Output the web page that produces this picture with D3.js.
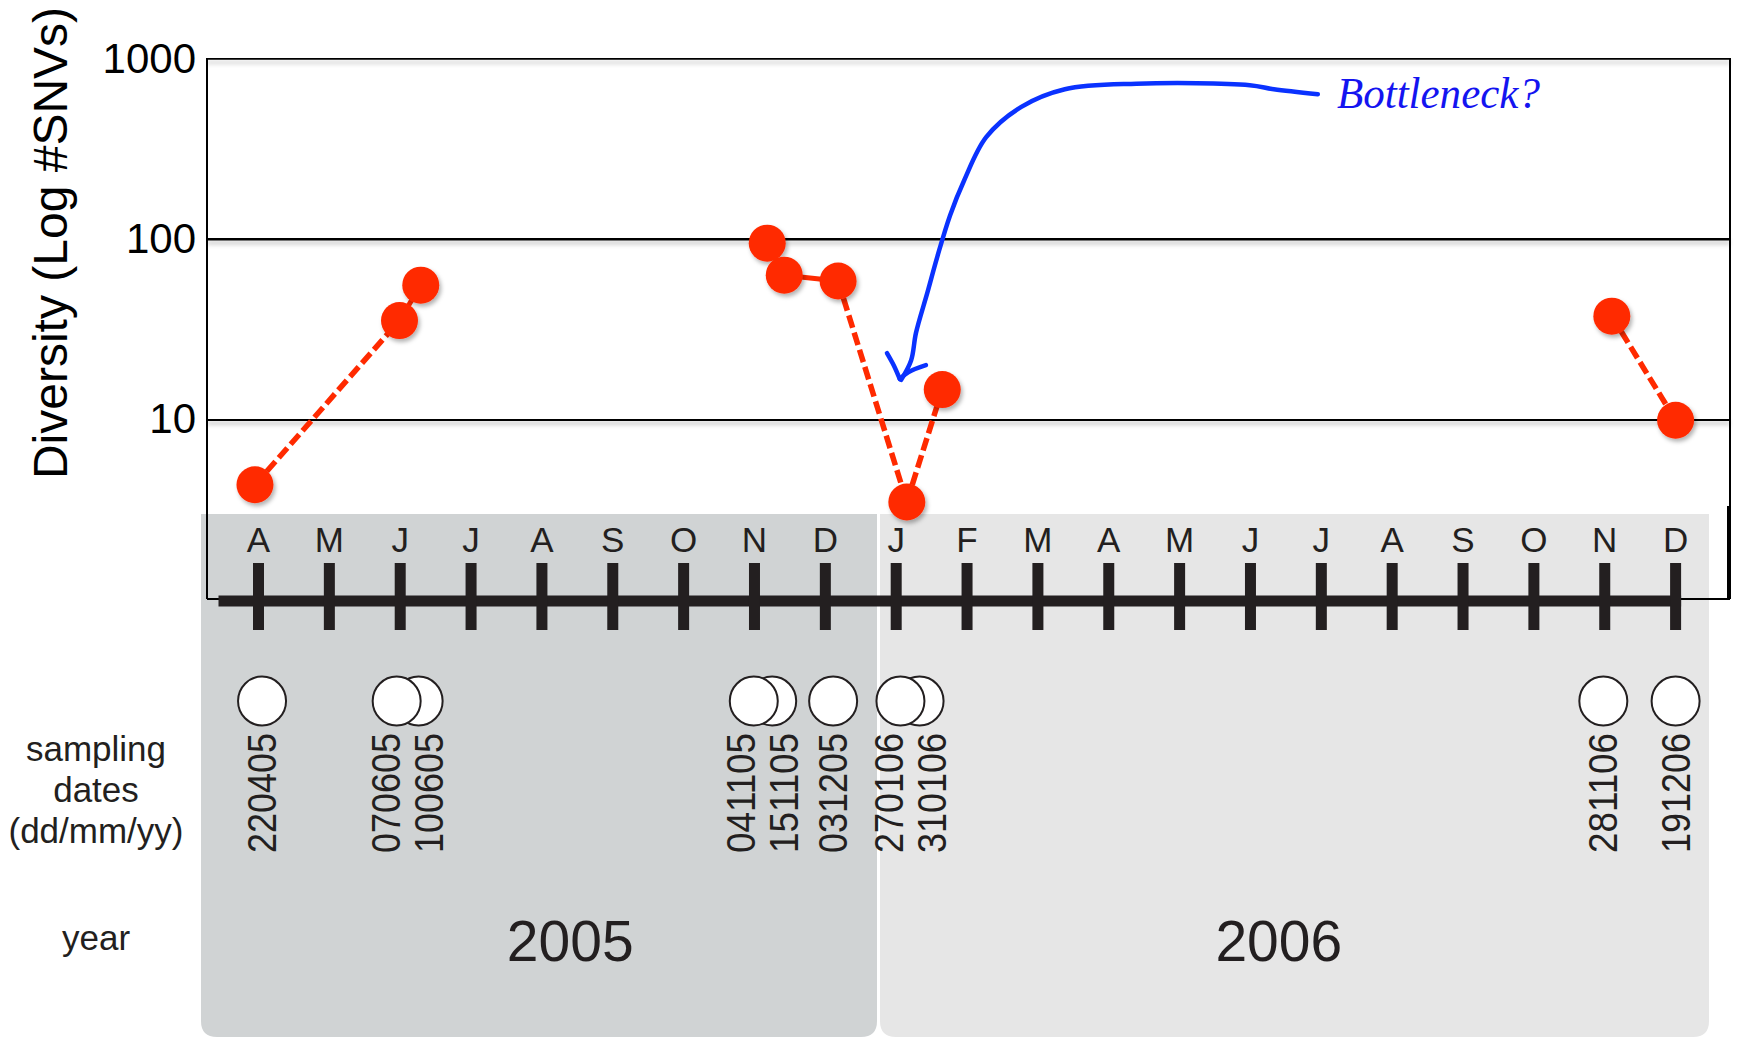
<!DOCTYPE html>
<html>
<head>
<meta charset="utf-8">
<script src="https://cdn.jsdelivr.net/npm/d3@7"></script>
<style>
  html, body { margin: 0; padding: 0; background: #fff; }
  svg { display: block; }
</style>
</head>
<body>
<svg id="chart" width="1740" height="1039"></svg>
<script>
// ---- data -------------------------------------------------------------
// Sampling dates (ddmmyy), in chronological order
const sampleDates = ["220405", "070605", "100605", "041105", "151105", "031205", "270106", "310106", "281106", "191206"];
// Diversity (number of SNVs) measured at each sampling date
const diversity = [4.3, 35, 55, 94, 62.5, 58, 3.45, 14.5, 37, 9.8];
// Where each diversity point sits on the time axis (months after April 2005)
const diversityMonth = [-0.05, 1.99, 2.29, 7.18, 7.42, 8.18, 9.15, 9.65, 19.10, 20.0];
// Where each sampling marker sits on the timeline (months after April 2005)
const sampleMonth = [0.05, 1.95, 2.26, 6.99, 7.25, 8.11, 9.06, 9.33, 18.98, 20.0];
// Connector from each sample to the next one
const linkStyle = ["dash", "solid", null, "solid", "solid", "dash", "dash", null, "dash", null];
// Month initials from April 2005 to December 2006
const monthLabels = ["A", "M", "J", "J", "A", "S", "O", "N", "D", "J", "F", "M", "A", "M", "J", "J", "A", "S", "O", "N", "D"];
const yearLabels = ["2005", "2006"];
const yearLabelMonth = [4.4, 14.4];
const yTicks = [10, 100, 1000];
// Hand-drawn annotation (month, SNVs)
const noteText = "Bottleneck?";
const notePos = [15.22, 527];
const arrowStroke = [
  [14.95, 630], [14.33, 671], [13.99, 707], [12.39, 720], [11.38, 671],
  [10.76, 534], [10.27, 364], [9.96, 210], [9.76, 134], [9.58, 79],
  [9.44, 50], [9.28, 30], [9.21, 21], [9.07, 16.4]
];
const arrowLeftArm = [[8.87, 23.1], [8.97, 19.6], [9.05, 16.6]];
const arrowRightArm = [[9.05, 16.6], [9.17, 18.1], [9.42, 19.8]];

// ---- layout -----------------------------------------------------------
const svg = d3.select("#chart");
const FONT = "'Liberation Sans', Arial, Helvetica, sans-serif";
const red = "#ff2a00";
const ink = "#231f20";
const box = { left: 207, right: 1730 };
const panels = [
  { x0: 201, x1: 877, fill: "#d0d3d4" },
  { x0: 880, x1: 1709, fill: "#e6e6e6" }
];
const panelTop = 514, panelBottom = 1037;
const timelineY = 601;

const x = d3.scaleLinear().domain([0, 20]).range([258.5, 1675.6]);
const y = d3.scaleLog().domain([1, 1000]).range([599, 58]);

// ---- filters ----------------------------------------------------------
const defs = svg.append("defs");
const lineShadow = defs.append("filter").attr("id", "lineShadow")
  .attr("filterUnits", "userSpaceOnUse")
  .attr("x", 0).attr("y", 0).attr("width", 1740).attr("height", 1039);
lineShadow.append("feDropShadow").attr("dx", 0).attr("dy", 4)
  .attr("stdDeviation", 2).attr("flood-color", "#000").attr("flood-opacity", 0.2);
const dotShadow = defs.append("filter").attr("id", "dotShadow")
  .attr("filterUnits", "userSpaceOnUse")
  .attr("x", 0).attr("y", 0).attr("width", 1740).attr("height", 1039);
dotShadow.append("feDropShadow").attr("dx", 2).attr("dy", 3)
  .attr("stdDeviation", 2).attr("flood-color", "#000").attr("flood-opacity", 0.3);

// ---- year panels (rounded at the bottom) --------------------------------
function bottomRounded(x0, y0, x1, y1, r) {
  return `M${x0},${y0}H${x1}V${y1 - r}Q${x1},${y1} ${x1 - r},${y1}H${x0 + r}Q${x0},${y1} ${x0},${y1 - r}Z`;
}
svg.append("g").selectAll("path").data(panels).join("path")
  .attr("d", d => bottomRounded(d.x0, panelTop, d.x1, panelBottom, 16))
  .attr("fill", d => d.fill);

// ---- y axis with gridlines ------------------------------------------------
const yAxis = d3.axisLeft(y)
  .tickValues(yTicks)
  .tickFormat(d3.format("d"))
  .tickSizeInner(-(box.right - box.left))
  .tickSizeOuter(0)
  .tickPadding(11);
const gy = svg.append("g").attr("transform", `translate(${box.left},0)`).call(yAxis);
gy.select(".domain").remove();
gy.selectAll(".tick line")
  .attr("stroke", "#000")
  .attr("stroke-width", d => d === 1000 ? 2.5 : 3.5)
  .attr("filter", "url(#lineShadow)");
gy.selectAll(".tick text")
  .attr("font-family", FONT).attr("font-size", 42).attr("fill", "#000")
  .attr("dy", "0.34em");

// plot frame
const frame = svg.append("g").attr("stroke", "#000").attr("fill", "none");
frame.append("line").attr("x1", box.left).attr("x2", box.left)
  .attr("y1", y(1000)).attr("y2", y(1)).attr("stroke-width", 2);
frame.append("line").attr("x1", box.right).attr("x2", box.right)
  .attr("y1", y(1000)).attr("y2", y(1)).attr("stroke-width", 2);
frame.append("line").attr("x1", box.right - 1).attr("x2", box.right - 1)
  .attr("y1", panelTop - 8).attr("y2", y(1)).attr("stroke-width", 4);
frame.append("line").attr("x1", box.left).attr("x2", box.right)
  .attr("y1", y(1)).attr("y2", y(1)).attr("stroke-width", 2);

// y title
svg.append("text")
  .attr("transform", "translate(50,243) rotate(-90)")
  .attr("text-anchor", "middle").attr("dominant-baseline", "central")
  .attr("font-family", FONT).attr("font-size", 48).attr("fill", "#000")
  .text("Diversity (Log #SNVs)");

// ---- timeline -------------------------------------------------------------
const tl = svg.append("g");
tl.append("rect")
  .attr("x", x(0) - 40).attr("width", x(20) + 5.5 - (x(0) - 40))
  .attr("y", timelineY - 5.5).attr("height", 11).attr("fill", ink);
tl.selectAll("rect.tick").data(monthLabels).join("rect").attr("class", "tick")
  .attr("x", (d, i) => x(i) - 5.5).attr("width", 11)
  .attr("y", 563).attr("height", 67).attr("fill", ink);
tl.selectAll("text.month").data(monthLabels).join("text").attr("class", "month")
  .attr("x", (d, i) => x(i)).attr("y", 552)
  .attr("text-anchor", "middle")
  .attr("font-family", FONT).attr("font-size", 35).attr("fill", ink)
  .text(d => d);

// ---- diversity series -------------------------------------------------------
const pts = diversity.map((v, i) => ({ v, m: diversityMonth[i], style: linkStyle[i] }));
const links = [];
pts.forEach((p, i) => { if (p.style && i + 1 < pts.length) links.push({ a: p, b: pts[i + 1], style: p.style }); });
svg.append("g").selectAll("line").data(links).join("line")
  .attr("x1", d => x(d.a.m)).attr("y1", d => y(d.a.v))
  .attr("x2", d => x(d.b.m)).attr("y2", d => y(d.b.v))
  .attr("stroke", red)
  .attr("stroke-width", d => d.style === "dash" ? 5.5 : 5)
  .attr("stroke-dasharray", d => d.style === "dash" ? "13 5" : null);
svg.append("g").attr("filter", "url(#dotShadow)")
  .selectAll("circle").data(pts).join("circle")
  .attr("cx", d => x(d.m)).attr("cy", d => y(d.v)).attr("r", 18.5)
  .attr("fill", red);

// ---- sampling markers and dates ---------------------------------------------
const markerY = 701;
const markers = sampleDates.map((d, i) => ({ d, m: sampleMonth[i] }));
svg.append("g").selectAll("ellipse").data(markers.slice().reverse()).join("ellipse")
  .attr("cx", d => x(d.m)).attr("cy", markerY).attr("rx", 24).attr("ry", 24.5)
  .attr("fill", "#fff").attr("stroke", ink).attr("stroke-width", 2);

// spread date labels so neighbours do not collide
const labelX = markers.map(d => x(d.m));
const minGap = 43;
for (let it = 0; it < 30; it++) {
  for (let i = 1; i < labelX.length; i++) {
    const gap = labelX[i] - labelX[i - 1];
    if (gap < minGap) { const s = (minGap - gap) / 2; labelX[i - 1] -= s; labelX[i] += s; }
  }
}
svg.append("g").selectAll("text").data(markers).join("text")
  .attr("transform", (d, i) => `translate(${labelX[i]},733) rotate(-90)`)
  .attr("text-anchor", "end").attr("dominant-baseline", "central")
  .attr("font-family", FONT).attr("font-size", 41).attr("fill", ink)
  .attr("textLength", 120).attr("lengthAdjust", "spacingAndGlyphs")
  .text(d => d.d);

// row titles
const rowTitles = svg.append("g").attr("font-family", FONT).attr("font-size", 35)
  .attr("fill", ink).attr("text-anchor", "middle");
[["sampling", 750], ["dates", 791], ["(dd/mm/yy)", 832], ["year", 939]].forEach(([t, cy]) => {
  rowTitles.append("text").attr("x", 96).attr("y", cy).attr("dy", "0.3em").text(t);
});

// year labels
svg.append("g").selectAll("text").data(yearLabels).join("text")
  .attr("x", (d, i) => x(yearLabelMonth[i])).attr("y", 940).attr("dy", "0.36em")
  .attr("text-anchor", "middle")
  .attr("font-family", FONT).attr("font-size", 57).attr("fill", ink)
  .text(d => d);

// ---- annotation -------------------------------------------------------------
const toXY = p => [x(p[0]), y(p[1])];
const note = svg.append("g").attr("fill", "none").attr("stroke", "#0a32ff")
  .attr("stroke-width", 4.5).attr("stroke-linecap", "round").attr("stroke-linejoin", "round");
note.append("path").attr("d", d3.line().curve(d3.curveCatmullRom.alpha(0.5))(arrowStroke.map(toXY)));
note.append("path").attr("d", d3.line().curve(d3.curveCatmullRom.alpha(0.5))(arrowLeftArm.map(toXY)));
note.append("path").attr("d", d3.line().curve(d3.curveCatmullRom.alpha(0.5))(arrowRightArm.map(toXY)));
svg.append("text")
  .attr("x", x(notePos[0])).attr("y", y(notePos[1]))
  .attr("font-family", "'Liberation Serif', 'DejaVu Serif', serif")
  .attr("font-style", "italic").attr("font-size", 45).attr("fill", "#1414f0")
  .attr("textLength", 203).attr("lengthAdjust", "spacingAndGlyphs")
  .text(noteText);
</script>
</body>
</html>
